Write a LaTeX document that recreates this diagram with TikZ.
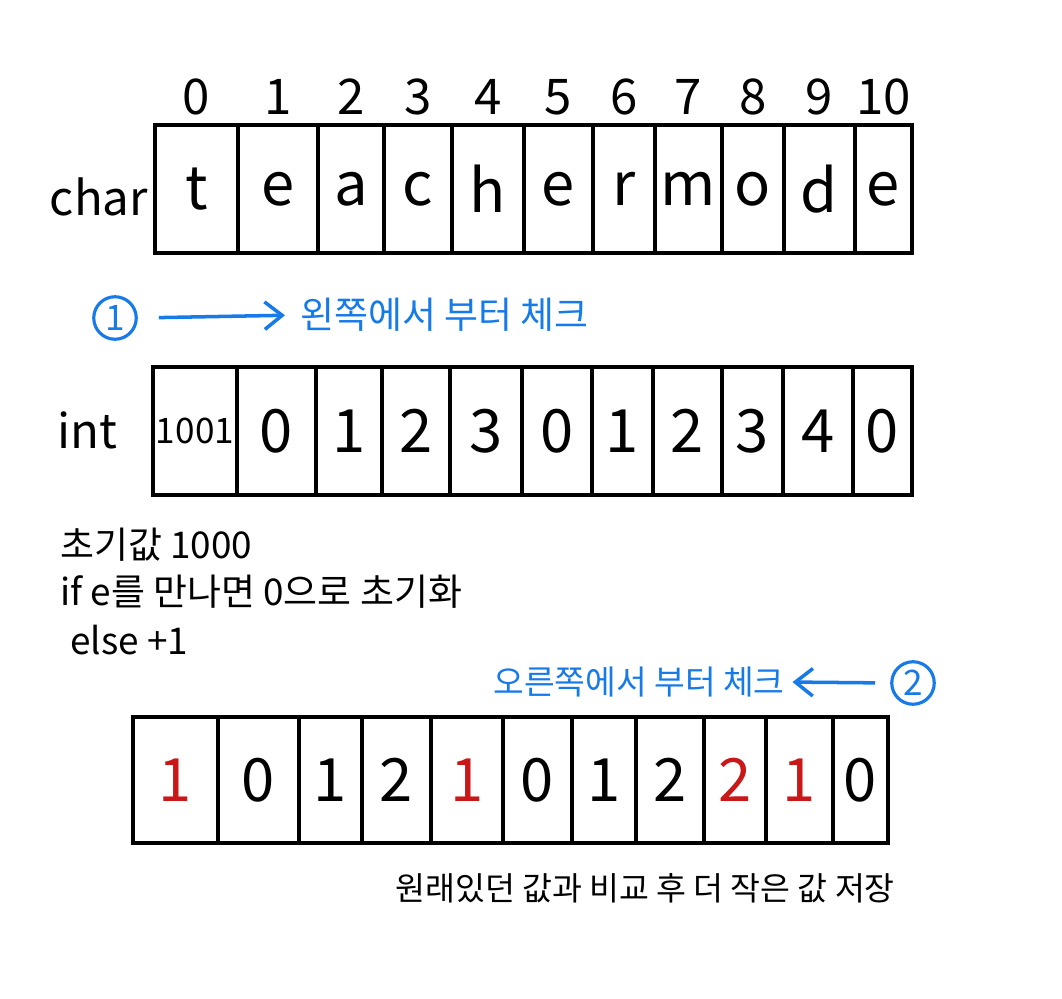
\documentclass[tikz,border=0pt]{standalone}
\usepackage{fontspec}
\setmainfont{Noto Sans CJK KR}
\usetikzlibrary{arrows.meta, positioning}
\definecolor{penblue}{RGB}{22,122,232}
\definecolor{penred}{RGB}{200,24,24}

\tikzset{
  box/.style={draw, line width=2pt},
  val/.style={font=\fontsize{34}{36}\selectfont, inner sep=0pt},
  idx/.style={font=\fontsize{28}{30}\selectfont, inner sep=0pt},
  lab/.style={font=\fontsize{27}{30}\selectfont, inner sep=0pt},
  note/.style={font=\fontsize{21}{24}\selectfont, anchor=west, inner sep=0pt},
  bnote/.style={note, text=penblue},
  num/.style={draw=penblue, text=penblue, circle, line width=1.8pt, minimum size=0.85cm, inner sep=0pt, font=\fontsize{20}{22}\selectfont},
  barrow/.style={draw=penblue, line width=2pt, -{Straight Barb[length=0.35cm, width=0.55cm]}}
}

\begin{document}
\begin{tikzpicture}[x=0.02cm, y=-0.02cm]
\useasboundingbox (0,0) rectangle (1062,999);

% char array
\node[lab] (lchar) at (99,197) {char};
\foreach \xa/\xb/\t [count=\i from 0] in {155/238/t, 238/318/e, 318/384/a, 384/452/c, 452/524/h, 524/593/e, 593/655/r, 655/722/m, 722/784/o, 784/855/d, 855/912/e}{
  \draw[box] (\xa,125) rectangle (\xb,253);
  \node[val] (c\i) at ({(\xa+\xb)/2},189) {\t};
  \node[idx] (n\i) at ({(\xa+\xb)/2},97) {\i};
}

% left to right
\node[num] (one) at (115,318) {1};
\node[bnote] (left) at (300,315) {왼쪽에서 부터 체크};
\draw[barrow, shorten <=0.42cm, shorten >=0.3cm] (one.east) -- (left.west);

% int array
\node[lab] (lint) at (87,430) {int};
\foreach \xa/\xb/\t [count=\i from 0] in {153/237/{\fontsize{20}{22}\selectfont 1001}, 237/316/0, 316/382/1, 382/450/2, 450/522/3, 522/592/0, 592/653/1, 653/722/2, 722/783/3, 783/853/4, 853/912/0}{
  \draw[box] (\xa,367) rectangle (\xb,495);
  \node[val] (d\i) at ({(\xa+\xb)/2},431) {\t};
}

% rules
\node[note] (init) at (60,545) {초기값 1000};
\node[note] (rule) at (60,592) {if e를 만나면 0으로 초기화};
\node[note] (step) at (70,640) {else +1};

% right to left
\node[num] (two) at (913,683) {2};
\node[bnote, anchor=east, font=\fontsize{19}{22}\selectfont] (right) at (785,682) {오른쪽에서 부터 체크};
\draw[barrow, shorten <=0.3cm, shorten >=0.15cm] (two.west) -- (right.east);

% result array
\foreach \xa/\xb/\col/\t [count=\i from 0] in {133/218/penred/1, 218/299/black/0, 299/362/black/1, 362/431/black/2, 431/503/penred/1, 503/572/black/0, 572/636/black/1, 636/704/black/2, 704/766/penred/2, 766/833/penred/1, 833/888/black/0}{
  \draw[box] (\xa,717) rectangle (\xb,843);
  \node[val, text=\col] (r\i) at ({(\xa+\xb)/2},780) {\t};
}

\node[note, font=\fontsize{18.5}{22}\selectfont] (cmp) at (395,888) {원래있던 값과 비교 후 더 작은 값 저장};
\end{tikzpicture}
\end{document}
